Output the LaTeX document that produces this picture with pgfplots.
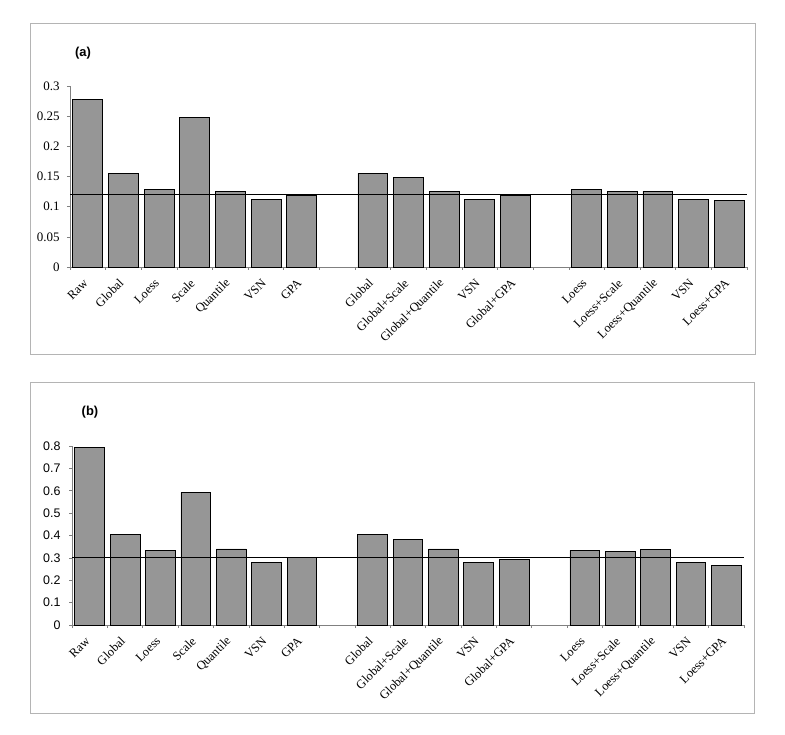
\documentclass[border=0pt]{standalone}
\usepackage{pgfplots}
\pgfplotsset{compat=1.18}
\usepackage{fontspec}
\setmainfont{Liberation Serif}
\setsansfont{Liberation Sans}
\definecolor{barfill}{HTML}{969696}
\definecolor{framegray}{HTML}{B4B4B4}
\definecolor{axgray}{HTML}{808080}

\pgfplotsset{
  excelbar/.style={
    scale only axis,
    anchor=south west,
    axis x line=bottom, axis y line=left,
    axis line style={axgray, line width=0.8bp, -},
    xmin=-0.5, xmax=18.5, ymin=0,
    clip=false,
    tick align=outside,
    major tick length=3bp, minor tick length=3bp,
    xtick={0,1,2,3,4,5,6,8,9,10,11,12,14,15,16,17,18},
    xticklabels={Raw,Global,Loess,Scale,Quantile,VSN,GPA,
      Global,Global+Scale,Global+Quantile,VSN,Global+GPA,
      Loess,Loess+Scale,Loess+Quantile,VSN,Loess+GPA},
    major x tick style={draw=none},
    minor xtick={-0.5,0.5,...,18.5},
    minor x tick style={draw=axgray, line width=0.6bp},
    ytick style={draw=axgray, line width=0.6bp},
    xticklabel style={font=\fontsize{12.5}{14}\selectfont, inner sep=0pt,
      xshift=-2bp, yshift=-11bp, rotate=45, anchor=east},
    /pgf/number format/assume math mode=true,
  },
  bars/.style={ybar, bar width=0.84, fill=barfill, draw=black, line width=0.8bp},
}

\begin{document}
\begin{tikzpicture}
\useasboundingbox (0,0) rectangle (785bp,735bp);
\draw[framegray, line width=0.8bp] (30bp,712bp) rectangle (755bp,381bp);
\draw[framegray, line width=0.8bp] (30bp,353bp) rectangle (754bp,22bp);

% panel (a)
\begin{axis}[excelbar,
  at={(70bp,468bp)}, width=677bp, height=181bp,
  ymax=0.3, ytick={0,0.05,0.1,0.15,0.2,0.25,0.3},
  yticklabels={0,0.05,0.1,0.15,0.2,0.25,0.3},
  yticklabel style={font=\fontsize{13}{15}\selectfont, xshift=-4bp},
]
\addplot[bars] coordinates {
  (0,0.278) (1,0.155) (2,0.129) (3,0.248) (4,0.1255) (5,0.112) (6,0.119)
  (8,0.155) (9,0.149) (10,0.1255) (11,0.112) (12,0.119)
  (14,0.129) (15,0.1255) (16,0.1255) (17,0.112) (18,0.111)};
\addplot[black, line width=0.8bp] coordinates {(-0.5,0.1195) (18.5,0.1195)};
\end{axis}
\node[font=\sffamily\bfseries\fontsize{13}{15}\selectfont] at (83bp,682bp) {(a)};

% panel (b)
\begin{axis}[excelbar,
  at={(72bp,110bp)}, width=672bp, height=179bp,
  ymax=0.8, ytick={0,0.1,0.2,0.3,0.4,0.5,0.6,0.7,0.8},
  yticklabels={0,0.1,0.2,0.3,0.4,0.5,0.6,0.7,0.8},
  yticklabel style={font=\sffamily\fontsize{12.5}{15}\selectfont, xshift=-5bp},
]
\addplot[bars] coordinates {
  (0,0.795) (1,0.403) (2,0.333) (3,0.5925) (4,0.340) (5,0.281) (6,0.300)
  (8,0.403) (9,0.382) (10,0.340) (11,0.281) (12,0.2925)
  (14,0.333) (15,0.328) (16,0.336) (17,0.281) (18,0.266)};
\addplot[black, line width=0.8bp] coordinates {(-0.5,0.300) (18.5,0.300)};
\end{axis}
\node[font=\sffamily\bfseries\fontsize{13}{15}\selectfont] at (90bp,323bp) {(b)};
\end{tikzpicture}
\end{document}
